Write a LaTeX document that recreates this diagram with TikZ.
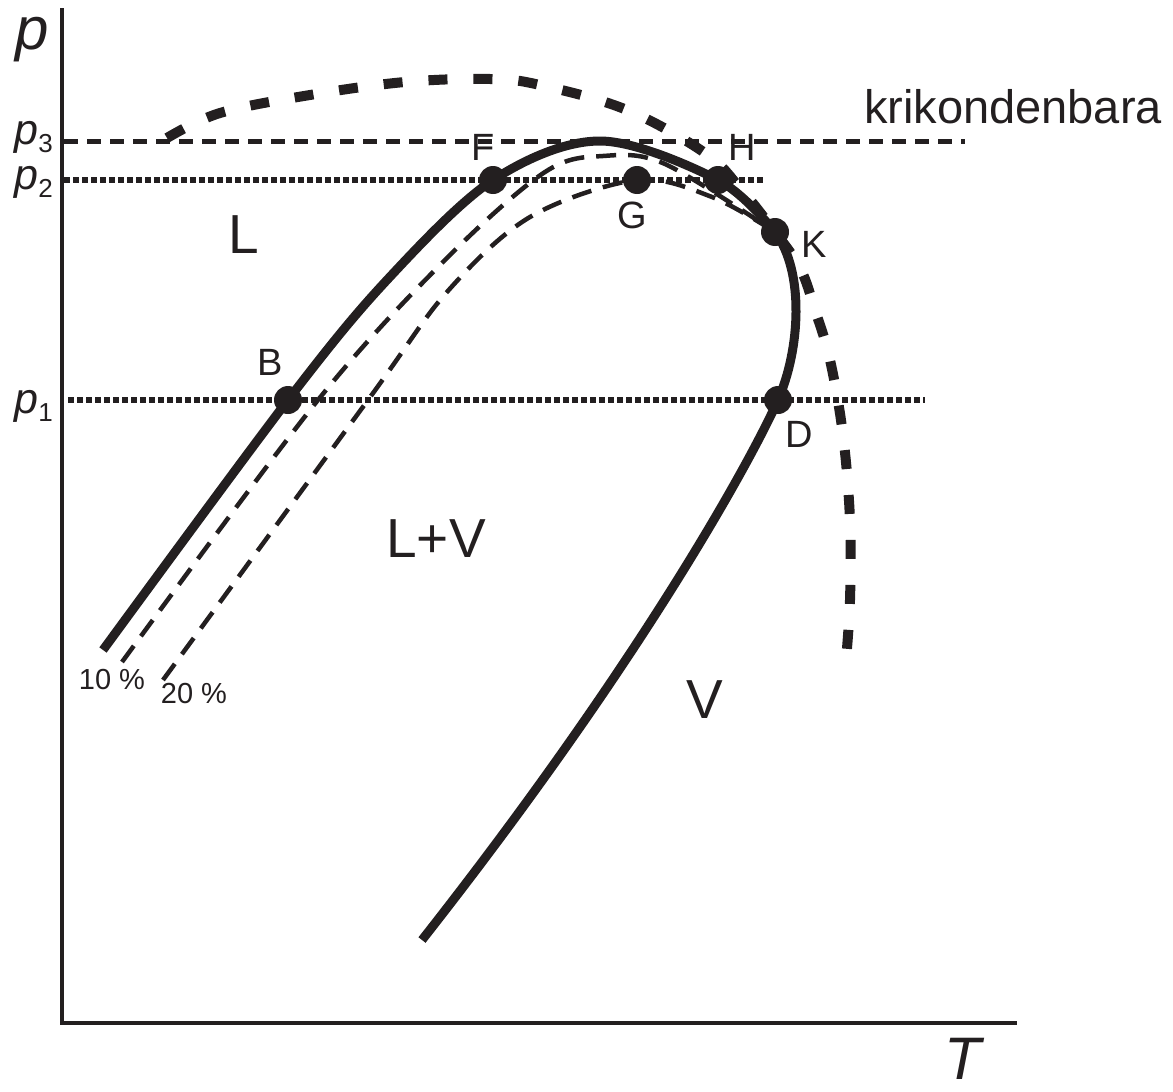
\documentclass[tikz,border=0pt]{standalone}
\usepackage{fontspec}
\setmainfont{Liberation Sans}
\definecolor{ink}{RGB}{35,31,32}
\begin{document}
\begin{tikzpicture}[x=1pt,y=-1pt, color=ink,
  axisline/.style={line width=4.5pt},
  envelope/.style={line width=9pt, line join=round},
  qualline/.style={line width=4.5pt, dash pattern=on 20pt off 12pt},
  critline/.style={line width=10pt, dash pattern=on 19pt off 26pt},
  isodash/.style={line width=5pt, dash pattern=on 14pt off 9pt},
  isodot/.style={line width=6pt, dash pattern=on 6pt off 3pt},
  ptmark/.style={circle, fill=ink, draw=none, inner sep=0pt, minimum size=28pt},
  lbl/.style={text=ink, anchor=base, inner sep=0pt, font=\fontsize{38}{40}\selectfont},
  region/.style={text=ink, anchor=base, inner sep=0pt, font=\fontsize{55}{60}\selectfont},
  pct/.style={text=ink, anchor=base, inner sep=0pt, font=\fontsize{29}{32}\selectfont},
  axlbl/.style={text=ink, anchor=base, inner sep=0pt, text depth=0pt, font=\fontsize{60}{64}\selectfont\itshape},
  plbl/.style={text=ink, anchor=base east, inner sep=0pt}
]
\useasboundingbox (0,0) rectangle (1173,1092);

% axes
\coordinate (ytop) at (62,8);
\coordinate (orig) at (62,1023);
\coordinate (xend) at (1017,1023);
\draw[axisline] (ytop) -- (orig) -- (xend);

% key points
\coordinate (cB) at (288,400);
\coordinate (cF) at (493,180);
\coordinate (cG) at (637,180);
\coordinate (cH) at (718,180);
\coordinate (cK) at (775,232);
\coordinate (cD) at (778,400);
\coordinate (vend) at (422,940);

% isobars
\coordinate (p3s) at (64,141);
\coordinate (p3e) at (965,141);
\coordinate (p2s) at (64,180);
\coordinate (p2e) at (765,180);
\coordinate (p1s) at (68,400);
\coordinate (p1e) at (925,400);
\draw[isodash] (p3s) -- (p3e);
\draw[isodot] (p2s) -- (p2e);
\draw[isodot] (p1s) -- (p1e);

% cricondentherm curve
\draw[critline] plot[smooth, tension=0.6] coordinates {(167,138) (220,113) (310,95) (405,82) (490,79) (540,85) (627,110) (705,153) (740,188) (772,228) (800,268) (815,310) (830,360) (843,435) (850,520) (850,600) (846,660)};

% quality lines
\draw[qualline] plot[smooth, tension=0.55] coordinates {(122,662) (318,400) (447,258) (545,172) (603,156) (665,164) (cK)};
\draw[qualline] plot[smooth, tension=0.55] coordinates {(163,680) (368,400) (447,292) (530,217) (cG) (712,197) (cK)};

% phase envelope
\draw[envelope] plot[smooth, tension=0.55] coordinates {(103,650) (cB) (387,280) (cF) (600,141) (cH) (cK)}
  .. controls (805,272) and (800,350) .. (cD)
  .. controls (756,450) and (650,650) .. (vend);

% point markers
\node[ptmark] (B) at (cB) {};
\node[ptmark] (F) at (cF) {};
\node[ptmark] (G) at (cG) {};
\node[ptmark] (H) at (cH) {};
\node[ptmark] (K) at (cK) {};
\node[ptmark] (D) at (cD) {};

% labels
\node[lbl] (lF) at (483,160) {F};
\node[lbl] (lH) at (742,160) {H};
\node[lbl] (lG) at (632,228) {G};
\node[lbl] (lK) at (814,257) {K};
\node[lbl] (lB) at (270,375) {B};
\node[lbl] (lD) at (799,447) {D};
\node[region] (lL) at (244,253) {L};
\node[region] (lLV) at (436,557) {L+V};
\node[region] (lV) at (705,718) {V};
\node[text=ink, anchor=base, inner sep=0pt, font=\fontsize{47}{50}\selectfont] (krik) at (1013,123) {krikondenbara};
\node[pct] (l10) at (112,689) {10 \%};
\node[pct] (l20) at (194,703) {20 \%};
\node[axlbl] (lp) at (32,49) {p};
\node[axlbl] (lT) at (963,1079) {T};
\node[plbl] (lp3) at (53,144) {{\fontsize{43}{45}\selectfont\itshape p}\raisebox{-8pt}{\fontsize{26}{28}\selectfont 3}};
\node[plbl] (lp2) at (53,189) {{\fontsize{43}{45}\selectfont\itshape p}\raisebox{-8pt}{\fontsize{26}{28}\selectfont 2}};
\node[plbl] (lp1) at (53,413) {{\fontsize{43}{45}\selectfont\itshape p}\raisebox{-8pt}{\fontsize{26}{28}\selectfont 1}};
\end{tikzpicture}
\end{document}
